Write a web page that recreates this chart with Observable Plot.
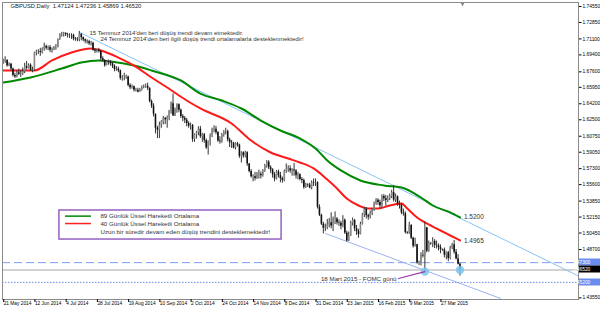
<!DOCTYPE html>
<html><head><meta charset="utf-8">
<script src="https://cdn.jsdelivr.net/npm/d3@7"></script>
<script src="https://cdn.jsdelivr.net/npm/@observablehq/plot@0.6"></script>
<style>html,body{margin:0;padding:0;background:#fff;} #chart{width:600px;height:309px;overflow:hidden}</style>
</head><body><div id="chart"></div><script>
// ---- data (GBPUSD daily, bar index 0 = 21 May 2014) ----
const firstOpen = 1.6860;
const closes = [
1.6870,1.6880,1.6825,1.6840,1.6790,1.6720,1.6705,1.6750,1.6735,1.6740,1.6760,1.6815,1.6800,1.6830,1.6775,1.6780,
1.6960,1.6975,1.6975,1.6965,1.7000,1.7030,1.7010,1.7020,1.6990,1.6995,1.7015,1.7020,1.7105,1.7155,1.7160,1.7170,
1.7155,1.7150,1.7150,1.7150,1.7110,1.7105,1.7100,1.7160,1.7125,1.7100,1.7085,1.7080,1.7060,1.7065,1.6990,1.6980,
1.6990,1.6975,1.6900,1.6880,1.6825,1.6865,1.6860,1.6845,1.6820,1.6785,1.6790,1.6770,1.6690,1.6695,1.6695,1.6705,
1.6615,1.6590,1.6600,1.6565,1.6565,1.6545,1.6570,1.6595,1.6600,1.6605,1.6585,1.6445,1.6395,1.6310,1.6160,1.6140,
1.6190,1.6225,1.6265,1.6250,1.6275,1.6340,1.6420,1.6290,1.6360,1.6410,1.6350,1.6285,1.6265,1.6245,1.6210,1.6180,
1.6190,1.6040,1.6090,1.6110,1.6150,1.6070,1.6090,1.6030,1.5950,1.6020,1.6080,1.6140,1.6150,1.6115,1.6025,1.6015,
1.6085,1.6120,1.6125,1.6035,1.6005,1.6000,1.5950,1.5995,1.5980,1.5860,1.5900,1.5865,1.5900,1.5780,1.5700,1.5645,
1.5645,1.5625,1.5665,1.5670,1.5655,1.5705,1.5760,1.5800,1.5740,1.5715,1.5665,1.5620,1.5695,1.5655,1.5625,1.5605,
1.5700,1.5725,1.5730,1.5705,1.5715,1.5705,1.5655,1.5665,1.5615,1.5605,1.5530,1.5560,1.5555,1.5525,1.5580,1.5575,
1.5580,1.5320,1.5235,1.5140,1.5095,1.5100,1.5130,1.5155,1.5120,1.5190,1.5195,1.5155,1.5150,1.5120,1.5180,1.5045,
1.4960,1.5015,1.5150,1.5180,1.5090,1.5060,1.5030,1.5140,1.5240,1.5295,1.5230,1.5215,1.5255,1.5290,1.5360,1.5395,
1.5370,1.5335,1.5435,1.5410,1.5390,1.5410,1.5435,1.5475,1.5395,1.5430,1.5355,1.5340,1.5260,1.5250,1.5050,1.5045,
1.5125,1.4990,1.4905,1.4920,1.4730,1.4735,1.4810,1.4800,1.5100,1.4850,1.4935,1.4930,1.4955,1.4915,1.4910,1.4890,
1.4870,1.4865,1.4810,1.4835,1.4775,1.4885,1.4920,1.4840,1.4770,1.4712,1.4652];
const highs = [
1.6895,1.6920,1.6890,1.6855,1.6850,1.6800,1.6745,1.6770,1.6790,1.6770,1.6800,1.6850,1.6870,1.6845,1.6845,1.6810,
1.6970,1.6990,1.6995,1.7010,1.7015,1.7065,1.7045,1.7035,1.7040,1.7015,1.7030,1.7050,1.7110,1.7165,1.7180,1.7180,
1.7175,1.7170,1.7165,1.7165,1.7160,1.7125,1.7125,1.7190,1.7165,1.7130,1.7110,1.7100,1.7095,1.7085,1.7075,1.7005,
1.7000,1.7010,1.6990,1.6920,1.6890,1.6880,1.6885,1.6880,1.6860,1.6835,1.6815,1.6810,1.6780,1.6720,1.6745,1.6725,
1.6715,1.6635,1.6620,1.6610,1.6585,1.6585,1.6585,1.6610,1.6620,1.6630,1.6640,1.6590,1.6460,1.6420,1.6200,1.6180,
1.6225,1.6240,1.6285,1.6275,1.6290,1.6350,1.6440,1.6525,1.6375,1.6420,1.6420,1.6365,1.6305,1.6285,1.6265,1.6230,
1.6215,1.6200,1.6100,1.6125,1.6175,1.6180,1.6105,1.6105,1.6045,1.6025,1.6100,1.6160,1.6185,1.6180,1.6125,1.6070,
1.6105,1.6135,1.6160,1.6140,1.6055,1.6030,1.6010,1.6005,1.6010,1.5990,1.5910,1.5910,1.5915,1.5910,1.5785,1.5720,
1.5665,1.5690,1.5690,1.5715,1.5695,1.5720,1.5775,1.5815,1.5815,1.5760,1.5730,1.5690,1.5710,1.5715,1.5690,1.5640,
1.5715,1.5780,1.5760,1.5760,1.5730,1.5785,1.5720,1.5690,1.5675,1.5635,1.5620,1.5575,1.5570,1.5575,1.5600,1.5620,
1.5620,1.5590,1.5345,1.5245,1.5160,1.5140,1.5190,1.5200,1.5260,1.5215,1.5270,1.5210,1.5185,1.5170,1.5230,1.5195,
1.5065,1.5055,1.5170,1.5205,1.5190,1.5125,1.5085,1.5160,1.5255,1.5320,1.5315,1.5245,1.5280,1.5305,1.5375,1.5410,
1.5410,1.5395,1.5450,1.5455,1.5445,1.5440,1.5460,1.5500,1.5552,1.5460,1.5440,1.5385,1.5360,1.5300,1.5270,1.5060,
1.5160,1.5135,1.5000,1.4990,1.4925,1.4745,1.4835,1.4860,1.5165,1.5100,1.4960,1.4945,1.4995,1.4975,1.4960,1.4930,
1.4920,1.4875,1.4885,1.4845,1.4850,1.4905,1.4935,1.4965,1.4870,1.4815,1.4724];
const lows = [
1.6840,1.6850,1.6810,1.6815,1.6770,1.6705,1.6690,1.6695,1.6720,1.6700,1.6720,1.6740,1.6780,1.6790,1.6765,1.6750,
1.6770,1.6930,1.6945,1.6925,1.6950,1.6980,1.6990,1.6985,1.6965,1.6960,1.6985,1.6990,1.7015,1.7095,1.7130,1.7130,
1.7135,1.7120,1.7115,1.7105,1.7090,1.7085,1.7080,1.7080,1.7090,1.7080,1.7060,1.7055,1.7040,1.7035,1.6980,1.6955,
1.6960,1.6960,1.6880,1.6865,1.6810,1.6825,1.6830,1.6820,1.6795,1.6760,1.6765,1.6750,1.6670,1.6660,1.6665,1.6680,
1.6600,1.6570,1.6575,1.6545,1.6545,1.6535,1.6540,1.6555,1.6580,1.6585,1.6560,1.6430,1.6370,1.6280,1.6100,1.6050,
1.6050,1.6160,1.6195,1.6200,1.6160,1.6240,1.6310,1.6285,1.6285,1.6320,1.6325,1.6265,1.6230,1.6210,1.6175,1.6160,
1.6140,1.6010,1.6010,1.6045,1.6080,1.6050,1.6010,1.6000,1.5935,1.5875,1.5970,1.6060,1.6110,1.6090,1.6010,1.5990,
1.6000,1.6065,1.6090,1.6015,1.5955,1.5945,1.5940,1.5930,1.5960,1.5840,1.5790,1.5840,1.5845,1.5755,1.5685,1.5630,
1.5590,1.5600,1.5615,1.5620,1.5620,1.5640,1.5690,1.5735,1.5720,1.5680,1.5630,1.5590,1.5610,1.5630,1.5580,1.5575,
1.5590,1.5680,1.5690,1.5680,1.5650,1.5650,1.5620,1.5610,1.5600,1.5570,1.5510,1.5520,1.5530,1.5515,1.5505,1.5540,
1.5540,1.5300,1.5220,1.5125,1.5035,1.5060,1.5080,1.5100,1.5090,1.5060,1.5135,1.5130,1.5115,1.5080,1.5100,1.5030,
1.4950,1.4955,1.5010,1.5120,1.5060,1.5020,1.4990,1.5025,1.5130,1.5210,1.5195,1.5180,1.5195,1.5230,1.5275,1.5340,
1.5340,1.5300,1.5310,1.5380,1.5330,1.5370,1.5390,1.5410,1.5375,1.5370,1.5330,1.5300,1.5240,1.5225,1.5035,1.5030,
1.5030,1.4975,1.4885,1.4895,1.4715,1.4700,1.4695,1.4780,1.4635,1.4835,1.4840,1.4915,1.4890,1.4880,1.4875,1.4855,
1.4825,1.4850,1.4780,1.4760,1.4740,1.4760,1.4870,1.4820,1.4760,1.4705,1.4587];

// moving averages (bar index, price)
const ema40Idx = [0,16,25,35,45,50,59,67,76,84,94,101,117,127,137,146,152,159,166,171,176,182,187,192,198,204,207,212,217,224,229,234];
const ema40Val = [1.6774,1.6774,1.6881,1.6966,1.7008,1.6987,1.6912,1.6827,1.6700,1.6593,1.6455,1.6370,1.6210,1.6029,1.5902,1.5838,1.5796,1.5732,1.5614,1.5519,1.5412,1.5338,1.5306,1.5306,1.5338,1.5359,1.5306,1.5211,1.5147,1.5072,1.5019,1.4966];
const ema89Idx = [0,14,30,40,49,55,67,76,91,101,112,122,132,142,152,160,166,173,183,195,204,214,220,229,234];
const ema89Val = [1.6646,1.6700,1.6795,1.6859,1.6881,1.6870,1.6827,1.6774,1.6668,1.6529,1.6455,1.6370,1.6242,1.6136,1.6051,1.5944,1.5817,1.5711,1.5604,1.5551,1.5529,1.5423,1.5338,1.5264,1.5211];

// trend lines
const upperTrendIdx = [39.1, 294.2];
const upperTrendVal = [1.7180, 1.4593];
const lowerTrendIdx = [165.1, 254.8];
const lowerTrendVal = [1.5040, 1.4349];

// horizontal levels
const dashedLevel = 1.4730;
const bidLevel = 1.4652;
const dottedLevel = 1.4520;

// axes
const xTickIdx = [0,16,32,48,64,80,96,112,128,144,160,176,192,208,224];
const xTickLabels = ["21 May 2014","12 Jun 2014","4 Jul 2014","28 Jul 2014","19 Aug 2014","10 Sep 2014","2 Oct 2014","24 Oct 2014","14 Nov 2014","8 Dec 2014","31 Dec 2014","23 Jan 2015","16 Feb 2015","9 Mar 2015","27 Mar 2015"];
const yTicks = [1.74550,1.72850,1.71100,1.69400,1.67600,1.65950,1.64200,1.62500,1.60750,1.59050,1.57300,1.55600,1.53850,1.52150,1.50450,1.48700,1.43550];
const priceBoxLevels = [1.47300, 1.46520, 1.45200];
const priceBoxColors = ["#6a8cf0", "#000000", "#6a8cf0"];

// annotations
const header = "GBPUSD,Daily  1.47124 1.47236 1.45869 1.46520";
const noteTexts = ["15 Temmuz 2014'den beri düşüş trendi devam etmektedir.", "24 Temmuz 2014'den beri ilgili düşüş trendi ortalamalarla desteklenmektedir!"];
const noteIdx = [44.2, 49.8];
const noteVal = [1.7173, 1.7107];
const legendLabels = ["89 Günlük Üssel Hareketli Ortalama", "40 Günlük Üssel Hareketli Ortalama", "Uzun bir süredir devam eden düşüş trendini desteklemektedir!"];
const legendColors = ["#008800", "#ff2020", null];
const legendBox = {x1: 28.8, x2: 142.6, y1: 1.4976, y2: 1.5285};
const legendRowVal = [1.5225, 1.5146, 1.5052];
const legendSwatchIdx = [31.9, 45.2];
const legendTextIdx = 49.8;
const fomcText = "18 Mart 2015 - FOMC günü";
const fomcTextPos = {i: 201.5, v: 1.4561};
const fomcPoint = {i: 216, v: 1.4635};
const lastPoint = {i: 234, v: 1.4652};
const maLabels = [{i: 236, v: 1.5215, t: "1.5200"}, {i: 236, v: 1.4958, t: "1.4965"}];
const shiftMarkIdx = 235.3;

// ---- build ----
const FONT = "Liberation Sans, Arial, sans-serif";
const bars = closes.map((c, i) => {
  const o = i ? closes[i - 1] : firstOpen;
  return {i, o, c, h: Math.max(highs[i], o, c), l: Math.min(lows[i], o, c), up: c >= o};
});
const ema40 = ema40Idx.map((i, k) => ({i, v: ema40Val[k]}));
const ema89 = ema89Idx.map((i, k) => ({i, v: ema89Val[k]}));
const upperTrend = upperTrendIdx.map((i, k) => ({i, v: upperTrendVal[k]}));
const lowerTrend = lowerTrendIdx.map((i, k) => ({i, v: lowerTrendVal[k]}));
const notes = noteTexts.map((t, k) => ({t, i: noteIdx[k], v: noteVal[k]}));
const legendRows = legendLabels.map((t, k) => ({t, v: legendRowVal[k], color: legendColors[k]}));
const yMax = 1.74976, yMin = 1.4338;

const boxesMark = (index, scales, values, dims) => {
  const g = d3.create("svg:g");
  const x0 = dims.width - dims.marginRight + 1;
  priceBoxLevels.forEach((v, k) => {
    const y = Math.round(scales.y(v));
    g.append("rect").attr("x", x0).attr("y", y - 3.5).attr("width", 21).attr("height", 7).attr("fill", priceBoxColors[k]);
    g.append("text").attr("x", x0 + 2.5).attr("y", y).attr("dy", "0.35em").attr("fill", "#fff")
      .attr("font-size", 4.9).attr("font-family", FONT).text(v.toFixed(5));
  });
  return g.node();
};

const chart = Plot.plot({
  width: 600, height: 309,
  marginTop: 2, marginRight: 22, marginBottom: 10, marginLeft: 2,
  x: {domain: [-0.36, 294.7]},
  y: {domain: [yMin, yMax]},
  style: {fontFamily: FONT, background: "#fff", overflow: "visible"},
  marks: [
    Plot.ruleY([dashedLevel], {stroke: "#7f9ff2", strokeWidth: 1, strokeDasharray: "8,4"}),
    Plot.ruleY([bidLevel], {stroke: "#d2d2d2", strokeWidth: 2}),
    Plot.ruleY([dottedLevel], {stroke: "#6d8ef0", strokeWidth: 1, strokeDasharray: "1.5,1.5"}),
    Plot.line(upperTrend, {x: "i", y: "v", stroke: "#86c4f6", strokeWidth: 1}),
    Plot.line(lowerTrend, {x: "i", y: "v", stroke: "#9cb2f2", strokeWidth: 1}),
    Plot.line(ema89, {x: "i", y: "v", stroke: "#008800", strokeWidth: 2, curve: "monotone-x"}),
    Plot.line(ema40, {x: "i", y: "v", stroke: "#ff1a1a", strokeWidth: 2, curve: "monotone-x"}),
    Plot.ruleX(bars, {x: "i", y1: "l", y2: "h", stroke: "#333", strokeWidth: 1}),
    Plot.ruleX(bars, {x: "i", y1: "o", y2: "c", stroke: d => d.up ? "#888" : "#111", strokeWidth: 1.6}),
    Plot.dot([fomcPoint, lastPoint], {x: "i", y: "v", r: 4.2, fill: "#7cc6ee", fillOpacity: 0.85}),
    Plot.line([{i: fomcTextPos.i + 1, v: fomcTextPos.v}, fomcPoint], {x: "i", y: "v", stroke: "#9a3aa8", strokeWidth: 1.2}),
    Plot.text([fomcTextPos], {x: "i", y: "v", text: () => fomcText, textAnchor: "end", fontSize: 6.2, fill: "#333"}),
    Plot.text(notes, {x: "i", y: "v", text: "t", textAnchor: "start", fontSize: 6, fill: "#333"}),
    Plot.text(maLabels, {x: "i", y: "v", text: "t", textAnchor: "start", fontSize: 6.5, fill: "#333"}),
    Plot.rect([legendBox], {x1: "x1", x2: "x2", y1: "y1", y2: "y2", fill: "#fff", stroke: "#9461c0", strokeWidth: 1.5}),
    Plot.ruleY(legendRows.filter(d => d.color), {y: "v", x1: legendSwatchIdx[0], x2: legendSwatchIdx[1], stroke: "color", strokeWidth: 1.5}),
    Plot.text(legendRows, {x: legendTextIdx, y: "v", text: "t", textAnchor: "start", fontSize: 6.2, fill: "#333"}),
    Plot.text([header], {frameAnchor: "top-left", dx: 8, dy: 1, text: d => d, fontSize: 5.8, fill: "#222"}),
    Plot.dot([shiftMarkIdx], {x: d => d, y: yMax, symbol: "triangle", rotate: 180, r: 1.8, fill: "#888", dy: 1}),
    Plot.frame({stroke: "#8a8a8a", strokeWidth: 1}),
    Plot.axisY({anchor: "right", ticks: yTicks, tickFormat: d => d.toFixed(5), tickSize: 2.5, tickPadding: 1.5, fontSize: 4.9, label: null}),
    Plot.axisX({ticks: xTickIdx, tickFormat: d => xTickLabels[xTickIdx.indexOf(d)], textAnchor: "start", tickSize: 3, tickPadding: -1, dx: 0.5, fontSize: 4.8, label: null}),
    boxesMark
  ]
});
document.getElementById("chart").append(chart);
</script></body></html>
